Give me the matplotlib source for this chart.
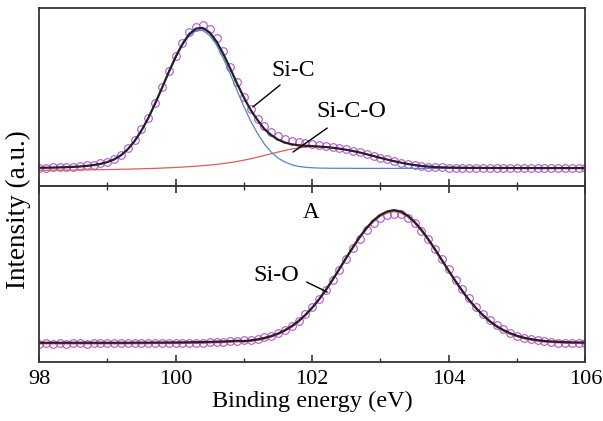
import matplotlib
matplotlib.use("Agg")
import matplotlib.pyplot as plt
import numpy as np

plt.rcParams['font.family'] = 'Liberation Serif'

# binding energy grid (eV), 0.1 eV steps
energy = np.round(np.arange(98.0, 106.05, 0.1), 1)

# ---- upper panel (Si-C / Si-C-O) ----
top_data = [
    0.3, 0.5, 0.6, 0.7, 0.9, 1.3, 1.8, 2.6, 3.4, 4.8,
    6.5, 9.5, 13.5, 19.8, 28.0, 39.0, 50.0, 65.0, 81.0, 97.5,
    112.0, 125.5, 136.0, 141.5, 143.0, 139.0, 130.0, 117.0, 101.0, 86.0,
    71.0, 59.0, 49.5, 42.0, 36.5, 32.0, 29.5, 27.5, 25.8, 24.8,
    24.0, 23.3, 22.4, 21.5, 20.4, 19.0, 17.5, 15.7, 14.0, 12.2,
    10.3, 8.6, 6.9, 5.3, 4.0, 2.9, 2.0, 1.4, 0.9, 0.6,
    0.4, 0.3, 0.2, 0.1, 0.1, 0.0, 0.0, 0.0, -0.1, 0.0,
    -0.1, 0.0, -0.1, -0.1, 0.0, -0.1, -0.1, 0.0, -0.1, -0.1,
    -0.1,
]
top_fit = [
    0.3, 0.4, 0.5, 0.7, 0.9, 1.2, 1.6, 2.2, 3.0, 4.2,
    6.0, 8.7, 12.8, 18.8, 27.0, 37.5, 50.0, 64.5, 80.0, 96.0,
    111.0, 124.0, 134.0, 139.5, 140.0, 135.5, 126.5, 114.0, 99.5, 84.5,
    70.5, 58.0, 48.0, 39.0, 33.0, 28.5, 25.5, 23.8, 22.8, 22.3,
    22.0, 21.5, 21.0, 20.3, 19.4, 18.3, 17.0, 15.5, 13.8, 12.0,
    10.2, 8.5, 6.9, 5.4, 4.1, 3.0, 2.1, 1.5, 1.0, 0.7,
    0.5, 0.4, 0.3, 0.2, 0.2, 0.1, 0.1, 0.1, 0.1, 0.1,
    0.0, 0.0, 0.0, 0.0, 0.0, 0.0, 0.0, 0.0, 0.0, 0.0,
    0.0,
]
top_sic = [
    0.2, 0.3, 0.4, 0.6, 0.8, 1.1, 1.5, 2.1, 2.9, 4.1,
    5.9, 8.6, 12.7, 18.7, 26.9, 37.4, 49.8, 64.2, 79.6, 95.4,
    110.2, 122.9, 132.5, 137.5, 137.5, 132.5, 123.0, 109.5, 94.0, 77.5,
    61.5, 47.0, 34.5, 24.0, 16.0, 10.0, 6.0, 3.3, 1.7, 0.8,
    0.3, 0.0, -0.1, -0.2, -0.2, -0.2, -0.3, -0.3, -0.3, -0.3,
    -0.3, -0.3, -0.3, -0.3, -0.3, -0.3, -0.3, -0.3, -0.3, -0.3,
    -0.3, -0.3, -0.3, -0.3, -0.3, -0.3, -0.3, -0.3, -0.3, -0.3,
    -0.3, -0.3, -0.3, -0.3, -0.3, -0.3, -0.3, -0.3, -0.3, -0.3,
    -0.3,
]
top_sico = [
    -2.2, -2.2, -2.1, -2.1, -2.0, -2.0, -1.9, -1.8, -1.7, -1.6,
    -1.5, -1.4, -1.2, -1.1, -0.9, -0.7, -0.5, -0.3, 0.0, 0.3,
    0.6, 1.0, 1.4, 1.9, 2.4, 3.0, 3.7, 4.5, 5.5, 6.6,
    7.9, 9.3, 10.9, 12.6, 14.3, 16.0, 17.6, 19.0, 20.2, 21.0,
    21.5, 21.5, 21.0, 20.3, 19.4, 18.3, 17.0, 15.5, 13.8, 12.0,
    10.2, 8.5, 6.9, 5.4, 4.1, 3.0, 2.1, 1.5, 1.0, 0.7,
    0.5, 0.4, 0.3, 0.2, 0.2, 0.1, 0.1, 0.1, 0.1, 0.1,
    0.0, 0.0, 0.0, 0.0, 0.0, 0.0, 0.0, 0.0, 0.0, 0.0,
    0.0,
]

# ---- lower panel (Si-O) ----
bot_data = [
    -0.5, -0.4, -0.5, -0.4, -0.5, -0.4, -0.4, -0.5, -0.4, -0.4,
    -0.4, -0.3, -0.4, -0.3, -0.3, -0.2, -0.3, -0.2, -0.1, 0.0,
    0.0, 0.1, 0.2, 0.3, 0.5, 0.7, 0.9, 1.2, 1.6, 2.1,
    2.6, 3.3, 4.3, 5.6, 7.4, 9.8, 13.0, 17.2, 22.5, 28.6,
    35.8, 44.0, 53.0, 63.0, 73.5, 84.2, 94.6, 104.3, 112.8, 119.6,
    124.8, 128.0, 129.5, 128.6, 125.2, 119.8, 112.5, 103.8, 94.2, 84.0,
    73.6, 63.4, 53.6, 44.6, 36.4, 29.2, 23.0, 17.9, 13.6, 10.2,
    7.5, 5.4, 3.8, 2.6, 1.7, 1.0, 0.5, 0.2, 0.0, -0.2,
    -0.3,
]
bot_fit = [
    0.3, 0.3, 0.3, 0.3, 0.3, 0.3, 0.3, 0.3, 0.3, 0.3,
    0.3, 0.3, 0.3, 0.3, 0.4, 0.4, 0.4, 0.5, 0.5, 0.6,
    0.6, 0.7, 0.8, 0.9, 1.0, 1.2, 1.4, 1.6, 1.9, 2.3,
    2.0, 2.7, 3.7, 5.1, 7.0, 9.5, 12.8, 16.9, 22.0, 28.2,
    35.4, 43.8, 53.2, 63.5, 74.4, 85.5, 96.3, 106.5, 115.5, 122.8,
    128.2, 131.6, 133.0, 131.5, 127.4, 121.2, 113.2, 103.9, 93.7, 83.0,
    72.3, 61.9, 52.0, 43.0, 35.0, 28.0, 22.0, 17.0, 13.0, 9.8,
    7.3, 5.4, 4.0, 2.9, 2.1, 1.6, 1.2, 0.9, 0.7, 0.6,
    0.5,
]
bot_sio = [
    -0.8, -0.8, -0.8, -0.8, -0.8, -0.8, -0.8, -0.8, -0.8, -0.8,
    -0.8, -0.8, -0.8, -0.8, -0.7, -0.7, -0.7, -0.6, -0.6, -0.5,
    -0.5, -0.4, -0.3, -0.2, -0.1, 0.1, 0.3, 0.5, 0.8, 1.2,
    1.0, 1.7, 2.7, 4.1, 6.0, 8.5, 11.8, 15.9, 21.0, 27.2,
    34.4, 42.8, 52.2, 62.4, 73.2, 84.2, 95.0, 105.2, 114.1, 121.4,
    126.8, 130.1, 131.5, 130.0, 126.0, 119.8, 111.9, 102.7, 92.6, 82.0,
    71.3, 60.9, 51.0, 42.0, 34.0, 27.0, 21.0, 16.0, 12.0, 8.8,
    6.3, 4.4, 3.0, 1.9, 1.1, 0.6, 0.2, -0.1, -0.3, -0.4,
    -0.5,
]

fig = plt.figure(figsize=(6.03, 4.21), dpi=100)
ax1 = fig.add_axes([0.0647, 0.558, 0.906, 0.423])
ax2 = fig.add_axes([0.0647, 0.140, 0.906, 0.418])

circ = dict(ls='none', marker='o', ms=5.5, mfc='none', mec='#b452d8', mew=0.8)

ax1.plot(energy, top_data, **circ)
ax1.plot(energy, top_sico, color='#e25a5a', lw=0.9)
ax1.plot(energy, top_sic, color='#4f84d8', lw=0.9)
ax1.plot(energy, top_fit, color='#222222', lw=1.6)

ax2.plot(energy, bot_data, **circ)
ax2.plot(energy, bot_sio, color='#e25a5a', lw=0.9)
ax2.plot(energy, bot_fit, color='#222222', lw=1.6)

ax1.set_ylim(-18, 160)
ax2.set_ylim(-19, 157)

for ax in (ax1, ax2):
    ax.set_xlim(98, 106)
    ax.set_xticks([98, 100, 102, 104, 106])
    ax.set_xticks([99, 101, 103, 105], minor=True)
    ax.set_yticks([])
    for s in ax.spines.values():
        s.set_linewidth(1.3)
        s.set_color('#333333')

ax1.tick_params(axis='x', which='both', direction='in', bottom=True, top=False,
                labelbottom=False, color='#333333')
ax1.tick_params(axis='x', which='major', length=5, width=1.2)
ax1.tick_params(axis='x', which='minor', length=3, width=1.0)
ax2.tick_params(axis='x', which='both', direction='in', bottom=True, top=True,
                labelsize=16, color='#333333')
ax2.tick_params(axis='x', which='major', length=5, width=1.2, pad=6)
ax2.tick_params(axis='x', which='minor', length=3, width=1.0)

ax2.set_xlabel('Binding energy (eV)', fontsize=17.5, labelpad=1)
fig.text(0.03, 0.502, 'Intensity (a.u.)', rotation=90, fontsize=19.5,
         ha='center', va='center')

line = dict(arrowstyle='-', color='black', lw=1.0, shrinkA=0, shrinkB=0)
ax1.text(101.72, 98, 'Si-C', fontsize=17, ha='center', va='center')
ax1.annotate('', xy=(101.13, 61), xytext=(101.53, 83), arrowprops=line)
ax1.text(102.58, 57, 'Si-C-O', fontsize=17.5, ha='center', va='center')
ax1.annotate('', xy=(101.72, 16), xytext=(102.22, 40), arrowprops=line)
ax2.text(101.47, 68, 'Si-O', fontsize=17.5, ha='center', va='center')
ax2.annotate('', xy=(102.22, 51), xytext=(101.92, 61), arrowprops=line)
ax2.text(101.98, 131, 'A', fontsize=16.5, ha='center', va='center')

fig.savefig('out.png', dpi=100)
